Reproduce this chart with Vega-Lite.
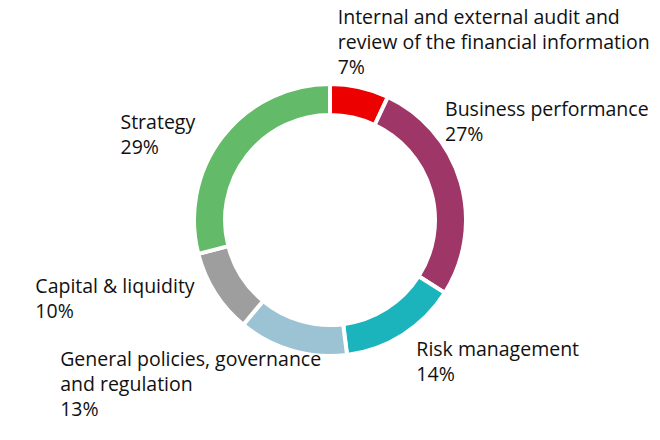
{
  "$schema": "https://vega.github.io/schema/vega-lite/v6.json",
  "width": 660,
  "height": 440,
  "padding": 0,
  "autosize": {"type": "fit", "contains": "padding"},
  "config": {"view": {"stroke": null}, "text": {"font": "Open Sans", "fontSize": 19.5, "lineHeight": 25, "color": "#111111", "align": "left", "baseline": "top", "lineBreak": "\n"}},
  "data": {"values": [
    {"order": 1, "category": "Internal and external audit and\nreview of the financial information", "key": "audit", "value": 7},
    {"order": 2, "category": "Business performance", "key": "business", "value": 27},
    {"order": 3, "category": "Risk management", "key": "risk", "value": 14},
    {"order": 4, "category": "General policies, governance\nand regulation", "key": "general", "value": 13},
    {"order": 5, "category": "Capital & liquidity", "key": "capital", "value": 10},
    {"order": 6, "category": "Strategy", "key": "strategy", "value": 29}
  ]},
  "transform": [
    {"stack": "value", "groupby": [], "sort": [{"field": "order", "order": "ascending"}], "as": ["v0", "v1"]},
    {"calculate": "(datum.v0 + datum.v1) / 2", "as": "mid"},
    {"calculate": "datum.category + '\\n' + datum.value + '%'", "as": "label"}
  ],
  "layer": [
    {
      "mark": {"type": "arc", "outerRadius": 136, "innerRadius": 105, "stroke": "white", "strokeWidth": 4},
      "encoding": {
        "theta": {"field": "v0", "type": "quantitative", "scale": {"domain": [0, 100]}},
        "theta2": {"field": "v1"},
        "color": {"field": "key", "type": "nominal", "legend": null,
          "scale": {"domain": ["audit", "business", "risk", "general", "capital", "strategy"],
                    "range": ["#EC0000", "#9E3667", "#1BB3BC", "#9BC3D3", "#9E9E9E", "#63BA68"]}}
      }
    },
    {
      "transform": [{"filter": "datum.key === 'audit'"}],
      "mark": {"type": "text", "radius": 150, "dx": -25, "dy": -65},
      "encoding": {"theta": {"field": "mid", "type": "quantitative", "scale": {"domain": [0, 100]}}, "text": {"field": "label"}}
    },
    {
      "transform": [{"filter": "datum.key === 'business'"}],
      "mark": {"type": "text", "radius": 150, "dx": -29, "dy": -77},
      "encoding": {"theta": {"field": "mid", "type": "quantitative", "scale": {"domain": [0, 100]}}, "text": {"field": "label"}}
    },
    {
      "transform": [{"filter": "datum.key === 'risk'"}],
      "mark": {"type": "text", "radius": 150, "dx": 6, "dy": -6},
      "encoding": {"theta": {"field": "mid", "type": "quantitative", "scale": {"domain": [0, 100]}}, "text": {"field": "label"}}
    },
    {
      "transform": [{"filter": "datum.key === 'general'"}],
      "mark": {"type": "text", "radius": 150, "dx": -228, "dy": -13},
      "encoding": {"theta": {"field": "mid", "type": "quantitative", "scale": {"domain": [0, 100]}}, "text": {"field": "label"}}
    },
    {
      "transform": [{"filter": "datum.key === 'capital'"}],
      "mark": {"type": "text", "radius": 150, "dx": -168, "dy": -22},
      "encoding": {"theta": {"field": "mid", "type": "quantitative", "scale": {"domain": [0, 100]}}, "text": {"field": "label"}}
    },
    {
      "transform": [{"filter": "datum.key === 'strategy'"}],
      "mark": {"type": "text", "radius": 150, "dx": -91, "dy": -14},
      "encoding": {"theta": {"field": "mid", "type": "quantitative", "scale": {"domain": [0, 100]}}, "text": {"field": "label"}}
    }
  ]
}
